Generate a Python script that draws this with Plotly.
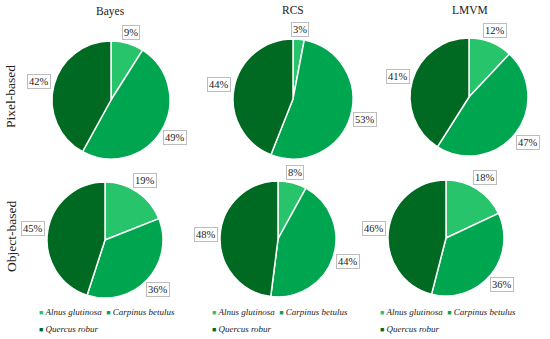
import math
import plotly.graph_objects as go

# ---------------- data ----------------
species = ["Alnus glutinosa", "Carpinus betulus", "Quercus robur"]
colors = ["#27C46B", "#00A54F", "#006A22"]
methods = ["Bayes", "RCS", "LMVM"]
rows = ["Pixel-based", "Object-based"]
pixel_bayes = [9, 49, 42]
pixel_rcs = [3, 53, 44]
pixel_lmvm = [12, 47, 41]
object_bayes = [19, 36, 45]
object_rcs = [8, 44, 48]
object_lmvm = [18, 36, 46]
values = [[pixel_bayes, pixel_rcs, pixel_lmvm],
          [object_bayes, object_rcs, object_lmvm]]

# ---------------- layout (pixels) ----------------
W, H = 550, 339
centers = [[(111, 100), (293, 99), (469, 97)],
           [(105, 240), (278, 239), (446, 238)]]
radii = [[59, 60, 59], [58, 58, 58]]
FONT = "Liberation Serif"

def px(x):
    return x / W

def py(y):
    return 1 - y / H

fig = go.Figure()
annotations = []

for i in range(2):
    for j in range(3):
        cx, cy = centers[i][j]
        r = radii[i][j]
        vals = values[i][j]
        fig.add_trace(go.Pie(
            labels=species, values=vals, sort=False, direction="clockwise",
            rotation=0, textinfo="none", hoverinfo="label+percent",
            marker=dict(colors=colors, line=dict(color="white", width=1.5)),
            domain=dict(x=[px(cx - r), px(cx + r)], y=[py(cy + r), py(cy - r)]),
            showlegend=False,
        ))
        total = sum(vals)
        cum = 0
        for v in vals:
            mid = (cum + v / 2) / total * 2 * math.pi
            cum += v
            s, c = math.sin(mid), math.cos(mid)
            txt = f"{v}%"
            hw = 2 + 3 * len(txt)
            hh = 6
            d = 1.05 * r + abs(s) * hw + abs(c) * hh
            lx, ly = cx + d * s, cy - d * c
            annotations.append(dict(
                x=px(lx), y=py(ly), xref="paper", yref="paper",
                text=txt, showarrow=False, xanchor="center", yanchor="middle",
                font=dict(family=FONT, size=10.5, color="#222"),
                bgcolor="white", bordercolor="#bdbdbd", borderwidth=1, borderpad=1,
            ))

# column titles
title_pos = [(110, 11), (293, 10), (470, 10)]
for m, (tx, ty) in zip(methods, title_pos):
    annotations.append(dict(x=px(tx), y=py(ty), xref="paper", yref="paper",
                            text=m, showarrow=False, xanchor="center", yanchor="middle",
                            font=dict(family=FONT, size=11.5, color="#222")))

# row labels
row_pos = [(11, 97), (11, 237)]
for rl, (tx, ty) in zip(rows, row_pos):
    annotations.append(dict(x=px(tx), y=py(ty), xref="paper", yref="paper",
                            text=rl, showarrow=False, textangle=-90,
                            xanchor="center", yanchor="middle",
                            font=dict(family=FONT, size=13.5, color="#222")))

# legends under bottom row
def item(k):
    return (f'<span style="font-size:7px;color:{colors[k]}">■</span> '
            f'<i>{species[k]}</i>')

legend_x = [37, 210, 378]
for lx in legend_x:
    annotations.append(dict(x=px(lx), y=py(312), xref="paper", yref="paper",
                            text=item(0) + "\u00a0\u00a0" + item(1), showarrow=False,
                            xanchor="left", yanchor="middle",
                            font=dict(family=FONT, size=9, color="#222")))
    annotations.append(dict(x=px(lx), y=py(329), xref="paper", yref="paper",
                            text=item(2), showarrow=False,
                            xanchor="left", yanchor="middle",
                            font=dict(family=FONT, size=9, color="#222")))

fig.update_layout(
    width=W, height=H, margin=dict(l=0, r=0, t=0, b=0),
    paper_bgcolor="white", plot_bgcolor="white",
    annotations=annotations, showlegend=False,
)
fig.write_html("out.html", config={"displayModeBar": False},
               post_script="document.body.style.margin='0px';document.body.style.overflow='hidden';")
